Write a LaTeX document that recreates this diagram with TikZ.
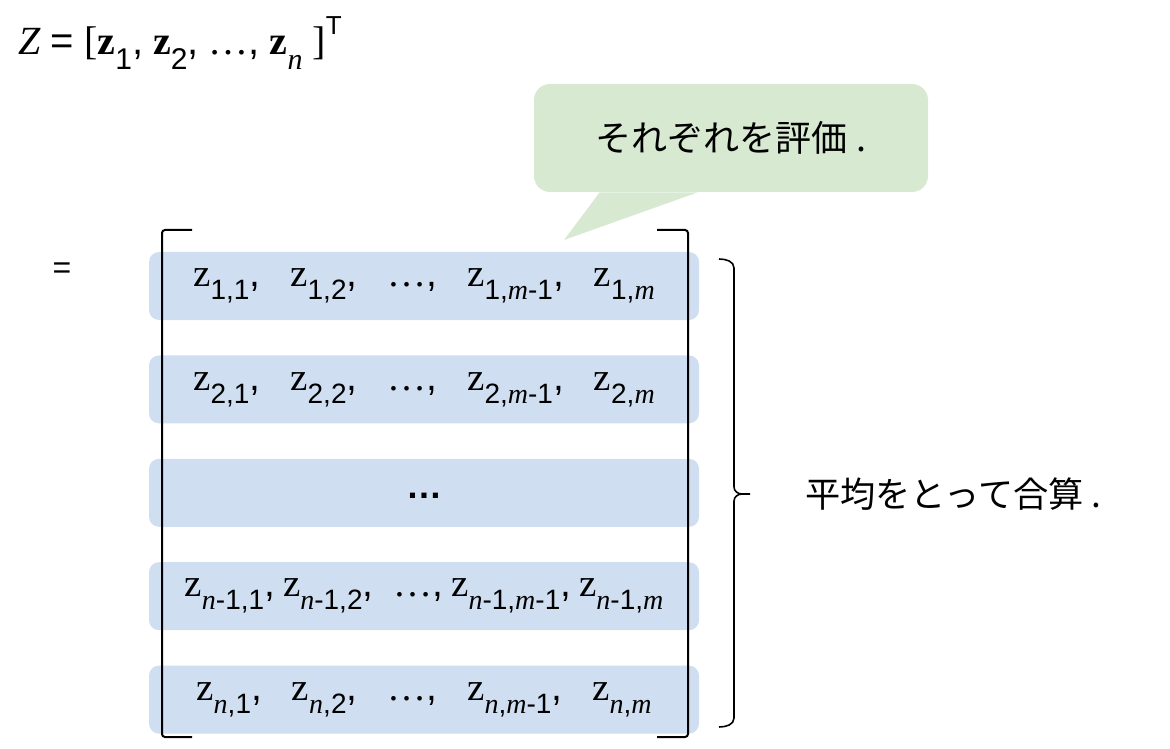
\documentclass[tikz,border=0pt]{standalone}
\usepackage{fontspec}
\usepackage{tikz}
\usetikzlibrary{positioning,calc}
\setmainfont{Liberation Serif}
\newfontfamily\sansf{Liberation Sans}
\newfontfamily\jpf{Noto Sans CJK JP}
\definecolor{rowblue}{RGB}{207,222,240}
\definecolor{callgreen}{RGB}{215,233,209}
% entry z_{..} and the separating comma
\newcommand{\zent}[1]{z\raisebox{-6.5pt}{\fontsize{14}{14}\sansf #1}}
\newcommand{\tsub}[1]{\raisebox{-7.5pt}{\fontsize{15}{15}\sansf #1}}
\newcommand{\vi}[1]{{\rmfamily\itshape #1}}
\newcommand{\zsep}{{\sansf ,}}
\newcommand{\zgap}{\hspace{15pt}}
\tikzset{
  rowbox/.style={rectangle, rounded corners=5pt, fill=rowblue, minimum width=275pt, minimum height=34pt, inner sep=0pt, font=\fontsize{19.5}{19.5}\selectfont},
  callbox/.style={rectangle, rounded corners=8pt, fill=callgreen, minimum width=197pt, minimum height=54pt, font=\fontsize{18}{18}\jpf},
  jplabel/.style={font=\fontsize{17.6}{17.6}\jpf},
  bracketline/.style={line width=1pt, rounded corners=1.5pt},
  braceline/.style={line width=0.8pt}
}
\begin{document}
\begin{tikzpicture}[x=0.5pt, y=-0.5pt, node distance=17.3pt]
\useasboundingbox (0,0) rectangle (1170,748);
\node[anchor=base west, inner sep=0pt, font=\fontsize{20}{20}\selectfont] (zdef) at (18,55) {\textit{Z} {\sansf =} [\textbf{z}\tsub{1}\zsep{} \textbf{z}\tsub{2}\zsep{} …\zsep{} \textbf{z}\tsub{\vi{n}}\hspace{5pt}]\raisebox{10pt}{\fontsize{13}{13}\sansf T}};
\node[font=\fontsize{16}{16}\sansf] (eq) at (62,271) {=};
% rows of the matrix
\node[rowbox] (r1) at (424,286) {\zent{1,1}\zsep\zgap\zent{1,2}\zsep\zgap …\zsep\zgap\zent{1,\vi{m}-1}\zsep\zgap\zent{1,\vi{m}}};
\node[rowbox, below=of r1] (r2) {\zent{2,1}\zsep\zgap\zent{2,2}\zsep\zgap …\zsep\zgap\zent{2,\vi{m}-1}\zsep\zgap\zent{2,\vi{m}}};
\node[rowbox, below=of r2, font=\fontsize{18}{18}\sansf\bfseries] (r3) {\raisebox{-6pt}{…}};
\node[rowbox, below=of r3] (r4) {\zent{\vi{n}-1,1}\zsep\hspace{4pt}\zent{\vi{n}-1,2}\zsep\hspace{10pt}…\zsep\hspace{4pt}\zent{\vi{n}-1,\vi{m}-1}\zsep\hspace{4pt}\zent{\vi{n}-1,\vi{m}}};
\node[rowbox, below=of r4] (r5) {\zent{\vi{n},1}\zsep\zgap\zent{\vi{n},2}\zsep\zgap …\zsep\zgap\zent{\vi{n},\vi{m}-1}\zsep\zgap\zent{\vi{n},\vi{m}}};
% brackets
\draw[bracketline] (192,230) -- (162,230) -- (162,737) -- (192,737);
\draw[bracketline] (657,230) -- (688,230) -- (688,737) -- (657,737);
% callout
\node[callbox] (eval) at (731,138) {それぞれを評価 .};
\coordinate (tip) at (564,240);
\fill[callgreen] ($(eval.south west)+(66,0)$) -- (tip) -- ($(eval.south west)+(164,0)$) -- cycle;
% brace and sum label
\coordinate (bracetip) at (750,494);
\draw[braceline] (719,259) to[out=0,in=90] (734,268) -- (734,487) to[out=-90,in=180] (742,494) -- (bracetip);
\draw[braceline] (742,494) to[out=180,in=90] (734,501) -- (734,718) to[out=-90,in=0] (719,727);
\node[jplabel, anchor=west] (sum) at (798,494) {平均をとって合算 .};
\end{tikzpicture}
\end{document}
